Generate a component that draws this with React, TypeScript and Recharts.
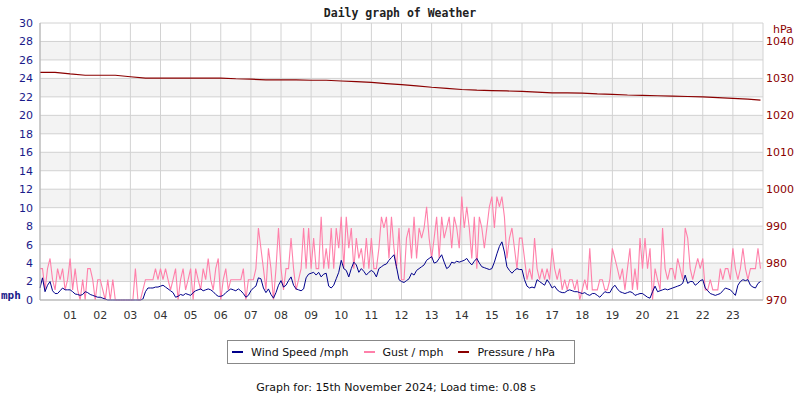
import {
  ComposedChart,
  Line,
  XAxis,
  YAxis,
  CartesianGrid,
} from "recharts";

// 5-minute readings, one row per hour
const windSpeed = [
  1.3, 2.4, 0.9, 1.6, 2.0, 1.0, 0.7, 0.7, 1.0, 1.3, 1.1, 1.1,
  1.1, 0.9, 0.65, 0.6, 0.5, 0.6, 0.9, 0.8, 0.6, 0.5, 0.4, 0.3,
  0.3, 0.2, 0.1, 0, 0, 0, 0, 0, 0, 0, 0, 0,
  0, 0, 0, 0, 0, 0.1, 0.9, 1.3, 1.3, 1.3, 1.4, 1.4,
  1.5, 1.6, 1.4, 1.2, 1.0, 0.8, 0.3, 0.4, 0.6, 0.5, 0.7, 0.6,
  0.5, 0.8, 1.0, 1.1, 1.2, 1.0, 1.1, 1.2, 1.1, 0.9, 0.6, 0.4,
  0.4, 0.5, 0.8, 1.0, 1.2, 1.1, 1.0, 1.2, 1.0, 0.7, 0.3, 0.5,
  1.0, 1.3, 1.5, 2.4, 2.3, 1.3, 0.8, 1.2, 0.6, 0.2, 0.8, 1.6,
  2.1, 1.4, 1.6, 2.1, 2.5, 1.6, 1.2, 1.1, 1.0, 1.2, 2.4, 2.8,
  2.9, 3.0, 2.7, 3.0, 2.5, 2.8, 2.9, 1.5, 1.3, 1.6, 2.3, 3.0,
  4.3, 3.4, 3.2, 2.5, 3.4, 4.1, 3.8, 3.0, 3.4, 3.1, 2.7, 3.0,
  3.2, 3.0, 2.5, 3.4, 3.6, 3.8, 3.9, 4.3, 4.6, 4.9, 3.6, 2.2,
  2.0, 1.9, 2.1, 2.3, 2.9, 2.7, 3.2, 3.4, 3.6, 3.8, 4.3, 4.5,
  4.7, 4.0, 4.1, 4.5, 4.9, 4.1, 3.4, 3.6, 4.1, 4.0, 4.2, 4.1,
  4.2, 4.3, 4.5, 4.1, 3.8, 4.2, 4.5, 4.0, 3.6, 3.5, 3.4, 3.3,
  3.4, 4.1, 5.0, 5.8, 6.3, 5.2, 3.6, 3.2, 2.9, 3.2, 3.4, 3.3,
  3.3, 2.2, 1.5, 1.3, 1.4, 1.3, 2.2, 2.0, 1.8, 1.6, 2.2, 1.8,
  1.3, 1.5, 1.1, 0.9, 0.8, 0.8, 1.0, 1.1, 1.0, 0.9, 0.9, 0.8,
  0.7, 0.8, 0.6, 0.5, 0.7, 0.7, 0.5, 0.3, 0.6, 0.9, 0.8, 0.8,
  1.3, 1.6, 1.2, 0.9, 0.8, 0.7, 0.8, 0.9, 0.8, 0.5, 0.6, 0.7,
  0.7, 0.5, 0.3, 0.2, 0.9, 1.5, 0.9, 1.0, 1.1, 1.2, 1.1, 1.2,
  1.3, 1.4, 1.5, 1.6, 1.8, 2.7, 1.8, 2.0, 2.0, 1.6, 1.8, 2.1,
  2.2, 1.3, 1.0, 0.7, 0.6, 0.5, 0.6, 0.7, 1.0, 1.3, 1.2, 1.1,
  0.8, 0.5, 1.6, 2.0, 2.2, 2.1, 2.2, 1.6, 1.4, 1.3, 1.8, 2.0,
];

const gust = [
  3.4, 3.4, 1.1, 3.4, 4.5, 2.2, 1.1, 3.4, 2.2, 3.4, 1.1, 2.2,
  4.5, 1.1, 3.4, 1.1, 0, 2.2, 0, 3.4, 3.4, 2.2, 0, 2.2,
  2.2, 1.1, 0, 2.2, 0, 2.2, 0, 0, 0, 0, 0, 0,
  0, 0, 3.4, 0, 0, 1.1, 2.2, 2.2, 2.2, 2.2, 3.4, 2.2,
  3.4, 2.2, 3.4, 2.2, 1.1, 2.2, 3.4, 0, 2.2, 3.4, 1.1, 2.2,
  3.4, 0, 3.4, 2.2, 1.1, 3.4, 2.2, 4.5, 2.2, 1.1, 3.4, 4.5,
  0, 2.2, 3.4, 1.1, 2.2, 2.2, 2.2, 2.2, 2.2, 3.4, 0, 2.2,
  2.2, 2.2, 3.4, 7.8, 5.6, 3.4, 1.1, 5.6, 3.4, 0, 3.4, 7.8,
  3.4, 1.1, 3.4, 3.4, 6.7, 3.4, 1.1, 2.2, 3.4, 7.8, 3.4, 7.8,
  3.4, 6.7, 3.4, 3.4, 9.0, 3.4, 5.6, 3.4, 7.8, 3.4, 7.8, 5.6,
  9.0, 3.4, 9.0, 5.6, 7.8, 3.4, 6.7, 4.5, 5.6, 3.4, 6.7, 3.4,
  6.7, 3.4, 3.4, 5.6, 9.0, 7.8, 9.0, 4.5, 9.0, 5.6, 3.4, 7.8,
  2.2, 2.2, 6.7, 7.8, 4.5, 9.0, 4.5, 7.8, 6.7, 7.8, 10.1, 6.7,
  4.5, 6.7, 9.0, 4.5, 9.0, 6.7, 7.8, 9.0, 5.6, 9.0, 7.8, 5.6,
  11.2, 7.8, 10.1, 7.8, 4.5, 9.0, 3.4, 9.0, 7.8, 5.6, 7.8, 10.1,
  11.2, 7.8, 11.2, 10.1, 11.2, 9.0, 4.5, 6.7, 7.8, 5.6, 3.4, 6.7,
  6.7, 4.5, 2.2, 3.4, 2.2, 6.7, 3.4, 2.2, 3.4, 2.2, 3.4, 2.2,
  5.6, 3.4, 2.2, 3.4, 1.1, 2.2, 1.1, 2.2, 2.2, 1.1, 2.2, 0,
  1.1, 2.2, 1.1, 5.6, 1.1, 1.1, 1.1, 2.2, 2.2, 1.1, 1.1, 2.2,
  5.6, 4.5, 3.4, 2.2, 3.4, 1.1, 3.4, 5.6, 1.1, 3.4, 1.1, 6.7,
  3.4, 6.7, 3.4, 5.6, 0, 3.4, 2.2, 1.1, 7.8, 3.4, 2.2, 3.4,
  3.4, 2.2, 4.5, 3.4, 2.2, 7.8, 6.7, 3.4, 2.2, 3.4, 4.5, 3.4,
  4.5, 1.1, 1.1, 2.2, 1.1, 1.1, 1.1, 3.4, 2.2, 3.4, 3.4, 2.2,
  5.6, 3.4, 2.2, 3.4, 5.6, 3.4, 2.2, 3.4, 3.4, 3.4, 5.6, 3.4,
];

// half-hourly, last one at 23:55
const pressure = [
  1031.65, 1031.65, 1031.2, 1030.85, 1030.85, 1030.85, 1030.45, 1030.1,
  1030.1, 1030.1, 1030.1, 1030.1, 1030.1, 1029.9, 1029.8, 1029.6,
  1029.6, 1029.6, 1029.5, 1029.5, 1029.3, 1029.1, 1028.9, 1028.6,
  1028.3, 1028.0, 1027.6, 1027.3, 1027.0, 1026.8, 1026.7, 1026.6,
  1026.5, 1026.3, 1026.1, 1026.1, 1026.0, 1025.8, 1025.7, 1025.5,
  1025.4, 1025.3, 1025.2, 1025.1, 1025.0, 1024.8, 1024.6, 1024.4,
  1024.1,
];

const hourTicks = [0, 1, 2, 3, 4, 5, 6, 7, 8, 9, 10, 11, 12, 13, 14, 15, 16, 17, 18, 19, 20, 21, 22, 23, 24];
const hourLabels = ["", "01", "02", "03", "04", "05", "06", "07", "08", "09", "10", "11", "12",
  "13", "14", "15", "16", "17", "18", "19", "20", "21", "22", "23", ""];
const mphTicks = [0, 2, 4, 6, 8, 10, 12, 14, 16, 18, 20, 22, 24, 26, 28, 30];
const hpaTicks = [970, 980, 990, 1000, 1010, 1020, 1030, 1040];

const WIND = "#00008b";
const GUST = "#ff80aa";
const PRES = "#8b0000";

const rows = windSpeed.map((w, i) => ({
  t: i / 12,
  wind: w,
  gust: gust[i],
  pressure: i % 6 === 0 ? pressure[i / 6] : i === windSpeed.length - 1 ? pressure[pressure.length - 1] : undefined,
}));

const legendItems = [
  { label: "Wind Speed /mph", color: WIND },
  { label: "Gust / mph", color: GUST },
  { label: "Pressure / hPa", color: PRES },
];

export default function App() {
  return (
    <div style={{ position: "absolute", left: 0, top: 0, width: 800, height: 400, background: "#fff", fontFamily: "'DejaVu Sans', sans-serif" }}>
      <ComposedChart width={800} height={400} data={rows} margin={{ top: 23, right: 0, left: 0, bottom: 70 }}>
        <CartesianGrid
          yAxisId="mph"
          stroke="#d2d2d2"
          horizontalFill={["#ffffff", "#f3f3f3"]}
        />
        <XAxis
          dataKey="t"
          type="number"
          domain={[0, 24]}
          ticks={hourTicks}
          interval={0}
          tickFormatter={(v: number) => hourLabels[v]}
          height={30}
          tickLine={false}
          tickMargin={5}
          axisLine={{ stroke: "#b0b0b0" }}
          tick={{ fontSize: 11, fill: "#333" }}
        />
        <YAxis
          yAxisId="mph"
          domain={[0, 30]}
          ticks={mphTicks}
          interval={0}
          width={40}
          tickLine={false}
          tickMargin={1}
          axisLine={{ stroke: "#b0b0b0" }}
          tick={{ fontSize: 11, fill: "#1a1a8a" }}
        />
        <YAxis
          yAxisId="hpa"
          orientation="right"
          domain={[970, 1045]}
          ticks={hpaTicks}
          interval={0}
          width={37}
          tickLine={false}
          tickSize={0}
          tickMargin={3}
          axisLine={false}
          tick={{ fontSize: 11, fill: PRES, textAnchor: "start" }}
        />
        <Line yAxisId="mph" dataKey="gust" stroke={GUST} strokeWidth={1.1} dot={false} isAnimationActive={false} />
        <Line yAxisId="mph" dataKey="wind" stroke={WIND} strokeWidth={1} dot={false} isAnimationActive={false} />
        <Line yAxisId="hpa" dataKey="pressure" stroke={PRES} strokeWidth={1.2} dot={false} connectNulls isAnimationActive={false} />
      </ComposedChart>

      <div style={{ position: "absolute", top: 6, left: 0, width: 800, textAlign: "center", fontFamily: "'DejaVu Sans Mono', monospace", fontWeight: "bold", fontSize: 11.5, lineHeight: "14px", color: "#222" }}>
        Daily graph of Weather
      </div>
      <div style={{ position: "absolute", top: 289, left: 1, fontFamily: "'DejaVu Sans Mono', monospace", fontWeight: "bold", fontSize: 11, lineHeight: "14px", color: "#1a1a8a" }}>
        mph
      </div>
      <div style={{ position: "absolute", top: 23, left: 773, fontSize: 11, lineHeight: "14px", color: PRES }}>
        hPa
      </div>

      <div style={{ position: "absolute", top: 340, left: 227, width: 346, height: 22, border: "1px solid #888", display: "flex", alignItems: "center", fontSize: 11, color: "#111" }}>
        {legendItems.map((it, i) => (
          <div key={it.label} style={{ display: "flex", alignItems: "center", marginLeft: i === 0 ? 4 : 15 }}>
            <span style={{ display: "inline-block", width: 11, height: 2, background: it.color, marginRight: 8 }} />
            <span>{it.label}</span>
          </div>
        ))}
      </div>

      <div style={{ position: "absolute", top: 381, left: 0, width: 792, textAlign: "center", fontSize: 11, lineHeight: "14px", color: "#111" }}>
        Graph for: 15th November 2024; Load time: 0.08 s
      </div>
    </div>
  );
}
